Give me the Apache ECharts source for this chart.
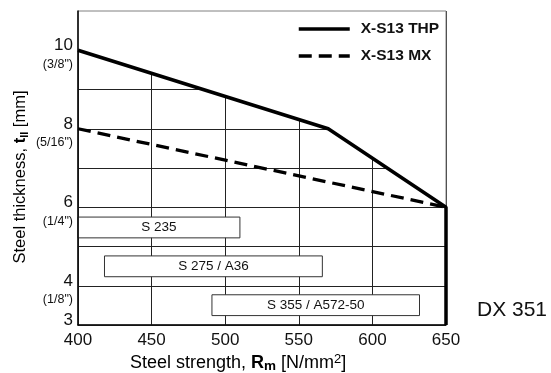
<!DOCTYPE html>
<html><head><meta charset="utf-8">
<script src="https://cdn.jsdelivr.net/npm/echarts@6/dist/echarts.min.js"></script>
<style>html,body{margin:0;padding:0;background:#fff}#c{width:551px;height:373px}</style>
</head><body><div id="c"></div>
<script>
// ---- data ----
const strengthTicks = [400, 450, 500, 550, 600, 650];
const thicknessTicks = [3, 4, 6, 8, 10];
const thicknessInchLabels = ['', '(1/8")', '(1/4")', '(5/16")', '(3/8")'];
const thpStrength = [400, 570, 650, 650];
const thpThickness = [10, 8, 6, 3];
const mxStrength = [400, 650];
const mxThickness = [8, 6];
const boxLabels = ['S 235', 'S 275 / A36', 'S 355 / A572-50'];
const boxStrengthFrom = [400, 418, 491];
const boxStrengthTo = [510, 566, 632];
const boxThickLow = [5.22, 4.23, 3.24];
const boxThickHigh = [5.75, 4.76, 3.77];
const seriesNames = ['X-S13 THP', 'X-S13 MX'];

const NARROW = '"Liberation Sans Narrow","Arial Narrow","Liberation Sans",Arial,sans-serif';
const REG = '"Liberation Sans",Arial,Helvetica,sans-serif';

const thpData = thpStrength.map((x, i) => [x, thpThickness[i]]);
const coverData = thpData.slice(0, 3);
const mxData = mxStrength.map((x, i) => [x, mxThickness[i]]);
const boxData = boxLabels.map((l, i) => [boxStrengthFrom[i], boxStrengthTo[i], boxThickLow[i], boxThickHigh[i]]);

const chart = echarts.init(document.getElementById('c'), null, {renderer: 'canvas'});
chart.setOption({
  animation: false,
  backgroundColor: '#fff',
  grid: {left: 78, right: 105, top: 11, bottom: 48, show: true, borderColor: '#808080', borderWidth: 1, backgroundColor: 'transparent', z: 3},
  legend: {
    data: seriesNames, orient: 'vertical', left: 292, top: 16,
    itemWidth: 51, itemHeight: 14, itemGap: 11,
    itemStyle: {opacity: 0},
    lineStyle: {width: 3.5, color: '#000'},
    textStyle: {fontFamily: REG, fontSize: 15.5, fontWeight: 'bold', color: '#111', padding: [0, 0, 0, 6], lineHeight: 14}
  },
  xAxis: [
    {type: 'value', position: 'bottom', min: 400, max: 650, interval: 50, z: 4,
      axisLine: {show: true, lineStyle: {color: '#000', width: 1.5}}, axisTick: {show: false},
      splitLine: {show: false},
      axisLabel: {fontFamily: NARROW, fontSize: 17, color: '#111', margin: 7,
        formatter: v => strengthTicks.includes(v) ? String(v) : ''}},
    {type: 'value', position: 'top', min: 400, max: 650, interval: 50, z: 0,
      axisLine: {show: false}, axisTick: {show: false}, axisLabel: {show: false},
      splitLine: {show: true, lineStyle: {color: '#222', width: 1}}}
  ],
  yAxis: [
    {type: 'value', position: 'left', min: 3, max: 11, interval: 1, z: 4,
      axisLine: {show: true, lineStyle: {color: '#000', width: 1.5}}, axisTick: {show: false},
      splitLine: {show: false}, showMinLabel: true,
      axisLabel: {margin: 5, padding: [10, 0, 0, 0], color: '#111',
        formatter: v => {
          const i = thicknessTicks.indexOf(v);
          if (i < 0) return '';
          return '{n|' + v + '}\n{f|' + (thicknessInchLabels[i] || ' ') + '}';
        },
        rich: {
          n: {fontFamily: NARROW, fontSize: 17, lineHeight: 18, align: 'right', color: '#111'},
          f: {fontFamily: NARROW, fontSize: 12.5, lineHeight: 19, align: 'right', color: '#111'}
        }}},
    {type: 'value', position: 'right', min: 3, max: 11, interval: 1, z: 0,
      axisLine: {show: false}, axisTick: {show: false}, axisLabel: {show: false},
      splitLine: {show: true, lineStyle: {color: '#222', width: 1}}}
  ],
  series: [
    {name: 'cover', type: 'line', data: coverData, xAxisIndex: 0, yAxisIndex: 0, symbol: 'none', silent: true, z: 1,
      lineStyle: {width: 0}, areaStyle: {color: '#fff', opacity: 1, origin: 'end'}},
    {name: 'boxes', type: 'custom', data: boxData, xAxisIndex: 0, yAxisIndex: 0, z: 2, encode: {x: [0, 1], y: [2, 3]},
      renderItem: function (params, api) {
        const p0 = api.coord([api.value(0), api.value(3)]);
        const p1 = api.coord([api.value(1), api.value(2)]);
        return {
          type: 'rect',
          shape: {x: p0[0], y: p0[1], width: p1[0] - p0[0], height: p1[1] - p0[1]},
          style: {fill: '#fff', stroke: '#333', lineWidth: 1},
          textContent: {style: {text: boxLabels[params.dataIndex], font: '13.5px ' + NARROW, fill: '#111'}},
          textConfig: {position: 'inside'}
        };
      }},
    {name: seriesNames[0], type: 'line', data: thpData, xAxisIndex: 0, yAxisIndex: 0, symbol: 'none', z: 5, clip: false,
      lineStyle: {color: '#000', width: 3.5}, itemStyle: {color: '#000'}},
    {name: seriesNames[1], type: 'line', data: mxData, xAxisIndex: 0, yAxisIndex: 0, symbol: 'none', z: 5, clip: false,
      lineStyle: {color: '#000', width: 3.3, type: [13, 7]}, itemStyle: {color: '#000'}}
  ],
  graphic: [
    {type: 'text', left: 130, top: 353, z: 10, style: {
      text: '{a|Steel strength, }{b|R}{s|m}{a| [N/mm}{p|2}{a|]}',
      rich: {
        a: {fontFamily: REG, fontSize: 18, lineHeight: 20, color: '#111'},
        b: {fontFamily: REG, fontSize: 18, fontWeight: 'bold', lineHeight: 20, color: '#111'},
        s: {fontFamily: REG, fontSize: 13.5, fontWeight: 'bold', lineHeight: 13, verticalAlign: 'bottom', color: '#111'},
        p: {fontFamily: REG, fontSize: 13, lineHeight: 12, verticalAlign: 'top', color: '#111'}
      }}},
    {type: 'text', x: 20, y: 177, rotation: Math.PI / 2, z: 10, style: {
      text: '{a|Steel thickness, }{b|t}{s|II}{a| [mm]}', align: 'center', verticalAlign: 'middle',
      rich: {
        a: {fontFamily: REG, fontSize: 16.5, lineHeight: 20, color: '#111'},
        b: {fontFamily: REG, fontSize: 16.5, fontWeight: 'bold', lineHeight: 20, color: '#111'},
        s: {fontFamily: REG, fontSize: 11, fontWeight: 'bold', lineHeight: 12, verticalAlign: 'bottom', color: '#111'}
      }}},
    {type: 'text', left: 477, top: 300, z: 10, style: {text: 'DX 351', font: '21px ' + REG, fill: '#111'}}
  ]
});
</script></body></html>
